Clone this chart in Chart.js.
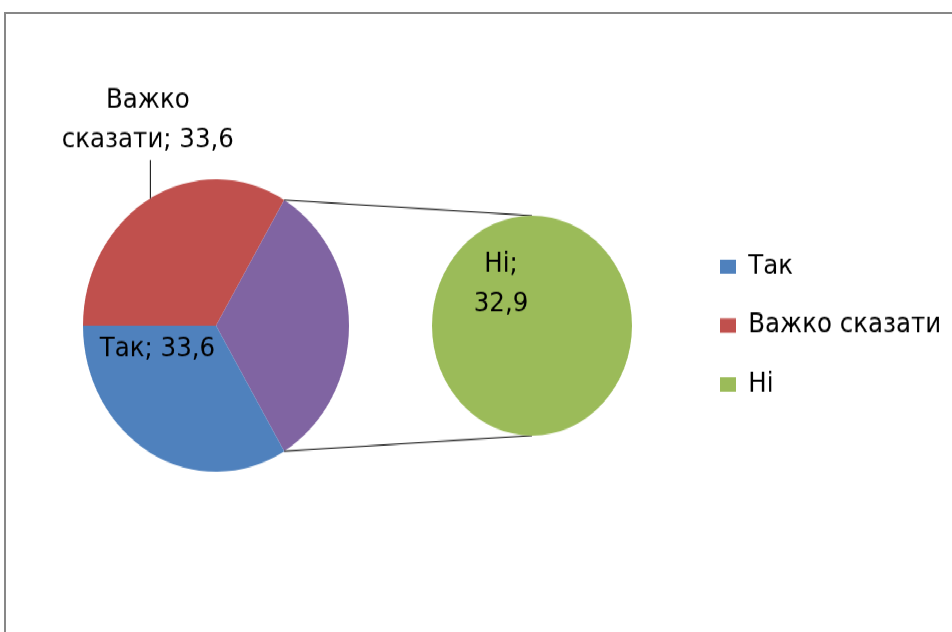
<!DOCTYPE html>
<html>
<head>
<meta charset="utf-8">
<script src="https://cdn.jsdelivr.net/npm/chart.js@4.4.1/dist/chart.umd.min.js"></script>
<style>
  html, body { margin: 0; padding: 0; background: #fff; overflow: hidden; }
  #frame { position: absolute; left: 4px; top: 12px; width: 1000px; height: 700px; border-top: 2px solid #878787; border-left: 2px solid #878787; }
  #stage { position: absolute; left: 0; top: 0; width: 952px; height: 575px; transform: scaleY(1.1); transform-origin: 0 0; }
  #stage canvas { position: absolute; left: 0; top: 0; }
</style>
</head>
<body>
<div id="frame"></div>
<div id="stage">
  <canvas id="mainPie" width="952" height="575"></canvas>
  <canvas id="subPie" width="952" height="575"></canvas>
</div>
<script>
// дані
const mainLabels = ["Важко сказати", "Ні", "Так"];
const mainValues = [33.6, 32.9, 33.6];
const mainColors = ["#C0504D", "#8064A2", "#4F81BD"];

const subLabels = ["Ні"];
const subValues = [32.9];
const subColors = ["#9BBB59"];

const legendLabels = ["Так", "Важко сказати", "Ні"];
const legendColors = ["#4F81BD", "#C0504D", "#9BBB59"];

const FONT_FAMILY = "'DejaVu Sans', sans-serif";
const FONT_SIZE = 24.5;
const FONT = FONT_SIZE + "px " + FONT_FAMILY;

const fmt = (v) => v.toFixed(1).replace(".", ",");

// підписи на основному колі
const mainLabelPlugin = {
  id: "mainLabels",
  afterDatasetsDraw(chart) {
    const ctx = chart.ctx;
    const arcs = chart.getDatasetMeta(0).data;
    ctx.save();
    ctx.font = FONT;
    ctx.fillStyle = "#000";
    ctx.textAlign = "center";
    ctx.textBaseline = "middle";

    // Важко сказати - зовні, з виноскою
    const red = arcs[0];
    const mid = (red.startAngle + red.endAngle) / 2;
    const ex = red.x + red.outerRadius * Math.cos(mid);
    const ey = red.y + red.outerRadius * Math.sin(mid);
    ctx.strokeStyle = "#000";
    ctx.lineWidth = 1;
    ctx.beginPath();
    ctx.moveTo(ex, ey);
    ctx.lineTo(ex, ey - 35);
    ctx.stroke();
    const words = mainLabels[0].split(" ");
    ctx.fillText(words[0], ex - 2.5, ey - 89);
    ctx.fillText(words[1] + "; " + fmt(mainValues[0]), ex - 2.5, ey - 53);

    // Так - всередині
    const blue = arcs[2];
    ctx.fillText(mainLabels[2] + "; " + fmt(mainValues[2]),
      blue.x - 0.44 * blue.outerRadius, blue.y + 0.165 * blue.outerRadius);
    ctx.restore();
  },
};

const mainChart = new Chart(document.getElementById("mainPie"), {
  type: "pie",
  data: {
    labels: mainLabels,
    datasets: [{ data: mainValues, backgroundColor: mainColors, borderWidth: 0 }],
  },
  options: {
    responsive: false,
    animation: false,
    rotation: 270,
    layout: { padding: { left: 83, right: 603, top: 163, bottom: 146 } },
    plugins: { legend: { display: false }, tooltip: { enabled: false } },
  },
  plugins: [mainLabelPlugin],
});

// лінії між колами + підпис "Ні"
const subPlugin = {
  id: "subExtras",
  beforeDatasetsDraw(chart) {
    const ctx = chart.ctx;
    const other = mainChart.getDatasetMeta(0).data[1];
    const sub = chart.getDatasetMeta(0).data[0];
    const r = other.outerRadius;
    ctx.save();
    ctx.strokeStyle = "#000";
    ctx.lineWidth = 1;
    ctx.beginPath();
    ctx.moveTo(other.x + r * Math.cos(other.startAngle), other.y + r * Math.sin(other.startAngle));
    ctx.lineTo(sub.x, sub.y - sub.outerRadius);
    ctx.moveTo(other.x + r * Math.cos(other.endAngle), other.y + r * Math.sin(other.endAngle));
    ctx.lineTo(sub.x, sub.y + sub.outerRadius);
    ctx.stroke();
    ctx.restore();
  },
  afterDatasetsDraw(chart) {
    const ctx = chart.ctx;
    const sub = chart.getDatasetMeta(0).data[0];
    const r = sub.outerRadius;
    ctx.save();
    ctx.font = FONT;
    ctx.fillStyle = "#000";
    ctx.textAlign = "center";
    ctx.textBaseline = "middle";
    ctx.fillText(subLabels[0] + ";", sub.x - 0.31 * r, sub.y - 0.55 * r);
    ctx.fillText(fmt(subValues[0]), sub.x - 0.31 * r, sub.y - 0.19 * r);
    ctx.restore();
  },
};

// ширина легенди, щоб квадратики стояли на x=720
const measure = document.createElement("canvas").getContext("2d");
measure.font = FONT;
const legendTextW = Math.max(...legendLabels.map((t) => measure.measureText(t).width));
const boxW = 16;
const legendPad = 29;
const legendRight = 952 - 720 - 10 - (boxW + FONT_SIZE / 2 + legendTextW);
const legendLeft = 720 - legendPad;

new Chart(document.getElementById("subPie"), {
  type: "pie",
  data: {
    labels: subLabels,
    datasets: [{ data: subValues, backgroundColor: subColors, borderWidth: 0 }],
  },
  options: {
    responsive: false,
    animation: false,
    layout: { padding: { left: 2 * 532 - legendLeft, right: legendRight, top: 196, bottom: 179 } },
    plugins: {
      tooltip: { enabled: false },
      legend: {
        position: "right",
        labels: {
          boxWidth: boxW,
          boxHeight: 13,
          padding: legendPad,
          color: "#000",
          font: { family: FONT_FAMILY, size: FONT_SIZE },
          generateLabels: () =>
            legendLabels.map((t, i) => ({
              text: t,
              fillStyle: legendColors[i],
              strokeStyle: legendColors[i],
              lineWidth: 0,
              hidden: false,
              index: i,
            })),
        },
      },
    },
  },
  plugins: [subPlugin],
});
</script>
</body>
</html>
